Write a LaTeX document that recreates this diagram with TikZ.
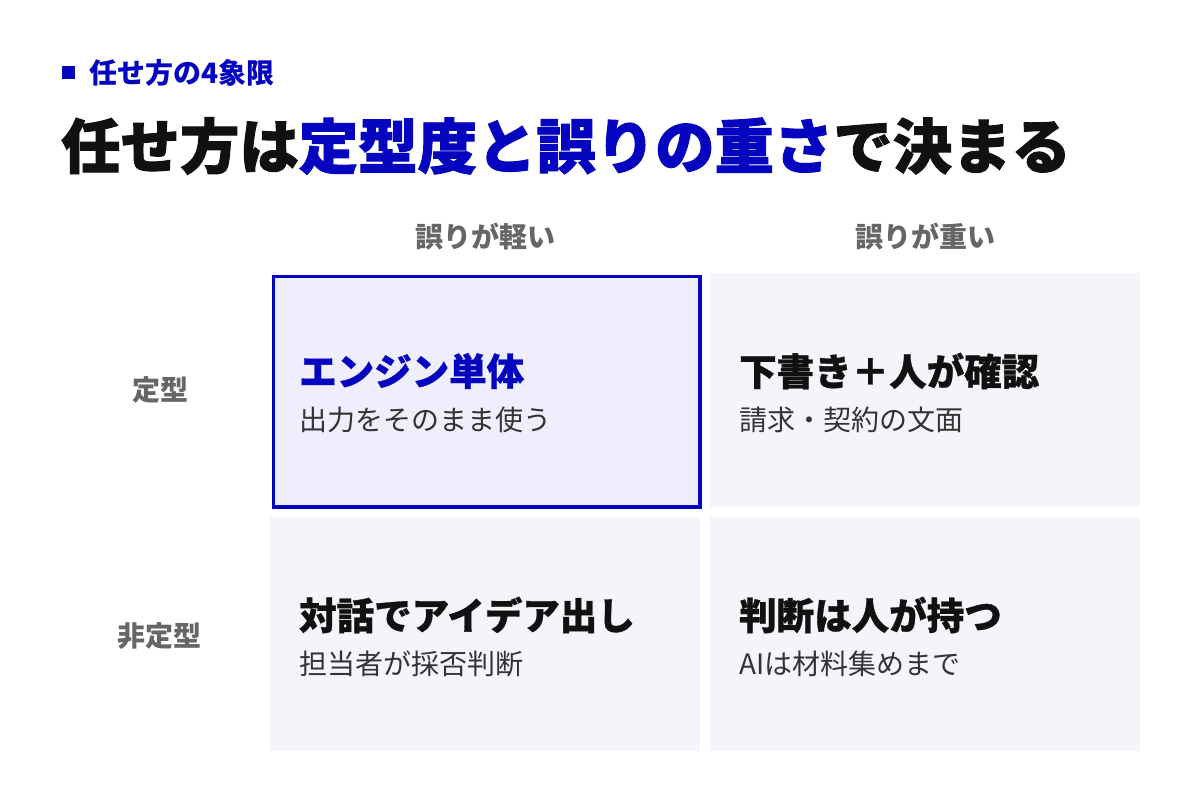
\documentclass[tikz,border=0pt]{standalone}
\usepackage{fontspec}
\setmainfont{Noto Sans CJK JP}
\newfontfamily\heavyfont[BoldFeatures={FakeBold=1.6}]{Noto Sans CJK JP}
\newfontfamily\semiheavyfont[BoldFeatures={FakeBold=0.8}]{Noto Sans CJK JP}
\definecolor{accent}{HTML}{0505C0}
\definecolor{inkdark}{HTML}{111111}
\definecolor{subgray}{HTML}{333333}
\definecolor{labgray}{HTML}{666666}
\definecolor{cellfill}{HTML}{F4F5FA}
\definecolor{hifill}{HTML}{EEEEFC}
\newcommand{\fsz}[1]{\fontsize{#1bp}{#1bp}\selectfont}
\tikzset{
  cell/.style={rectangle, fill=cellfill, minimum width=430bp, minimum height=234bp, inner sep=0pt, anchor=north west},
  hicell/.style={rectangle, fill=hifill, draw=accent, line width=3.5bp, minimum width=426.5bp, minimum height=230.5bp, inner sep=0pt, anchor=north west},
  celltitle/.style={anchor=west, inner sep=0pt, font=\fsz{37.5}\semiheavyfont\bfseries, text=inkdark},
  cellsub/.style={anchor=west, inner sep=0pt, font=\fsz{28}, text=subgray},
  axislab/.style={anchor=center, inner sep=0pt, font=\fsz{28}\bfseries, text=labgray},
}
\begin{document}
\begin{tikzpicture}[x=1bp, y=-1bp]
\useasboundingbox (0,0) rectangle (1200,800);
\fill[white] (0,0) rectangle (1200,800);
% header
\node[fill=accent, minimum size=13bp, inner sep=0pt] (sq) at (68.5,72.5) {};
\node[anchor=west, inner sep=0pt, font=\fsz{28}\bfseries, text=accent] (kicker) at (89,73) {任せ方の4象限};
\node[anchor=west, inner sep=0pt, font=\fsz{59.4}\heavyfont\bfseries, text=inkdark] (title) at (61,146) {任せ方は\textcolor{accent}{定型度と誤りの重さ}で決まる};
% column headers
\node[axislab] (colA) at (485,237) {誤りが軽い};
\node[axislab] (colB) at (925,237) {誤りが重い};
% row headers
\node[axislab] (rowA) at (160,390) {定型};
\node[axislab] (rowB) at (159,636) {非定型};
% cells
\node[hicell] (c11) at (271.75,274.75) {};
\node[cell] (c12) at (710,273) {};
\node[cell] (c21) at (270,517) {};
\node[cell] (c22) at (710,517) {};
% texts
\node[celltitle, text=accent] (t11) at (299,371) {エンジン単体};
\node[cellsub] (s11) at (299,420) {出力をそのまま使う};
\node[celltitle] (t12) at (739,371) {下書き＋人が確認};
\node[cellsub] (s12) at (739,420) {請求・契約の文面};
\node[celltitle] (t21) at (299,615) {対話でアイデア出し};
\node[cellsub] (s21) at (299,664) {担当者が採否判断};
\node[celltitle] (t22) at (739,615) {判断は人が持つ};
\node[cellsub] (s22) at (739,664) {AIは材料集めまで};
\end{tikzpicture}
\end{document}
